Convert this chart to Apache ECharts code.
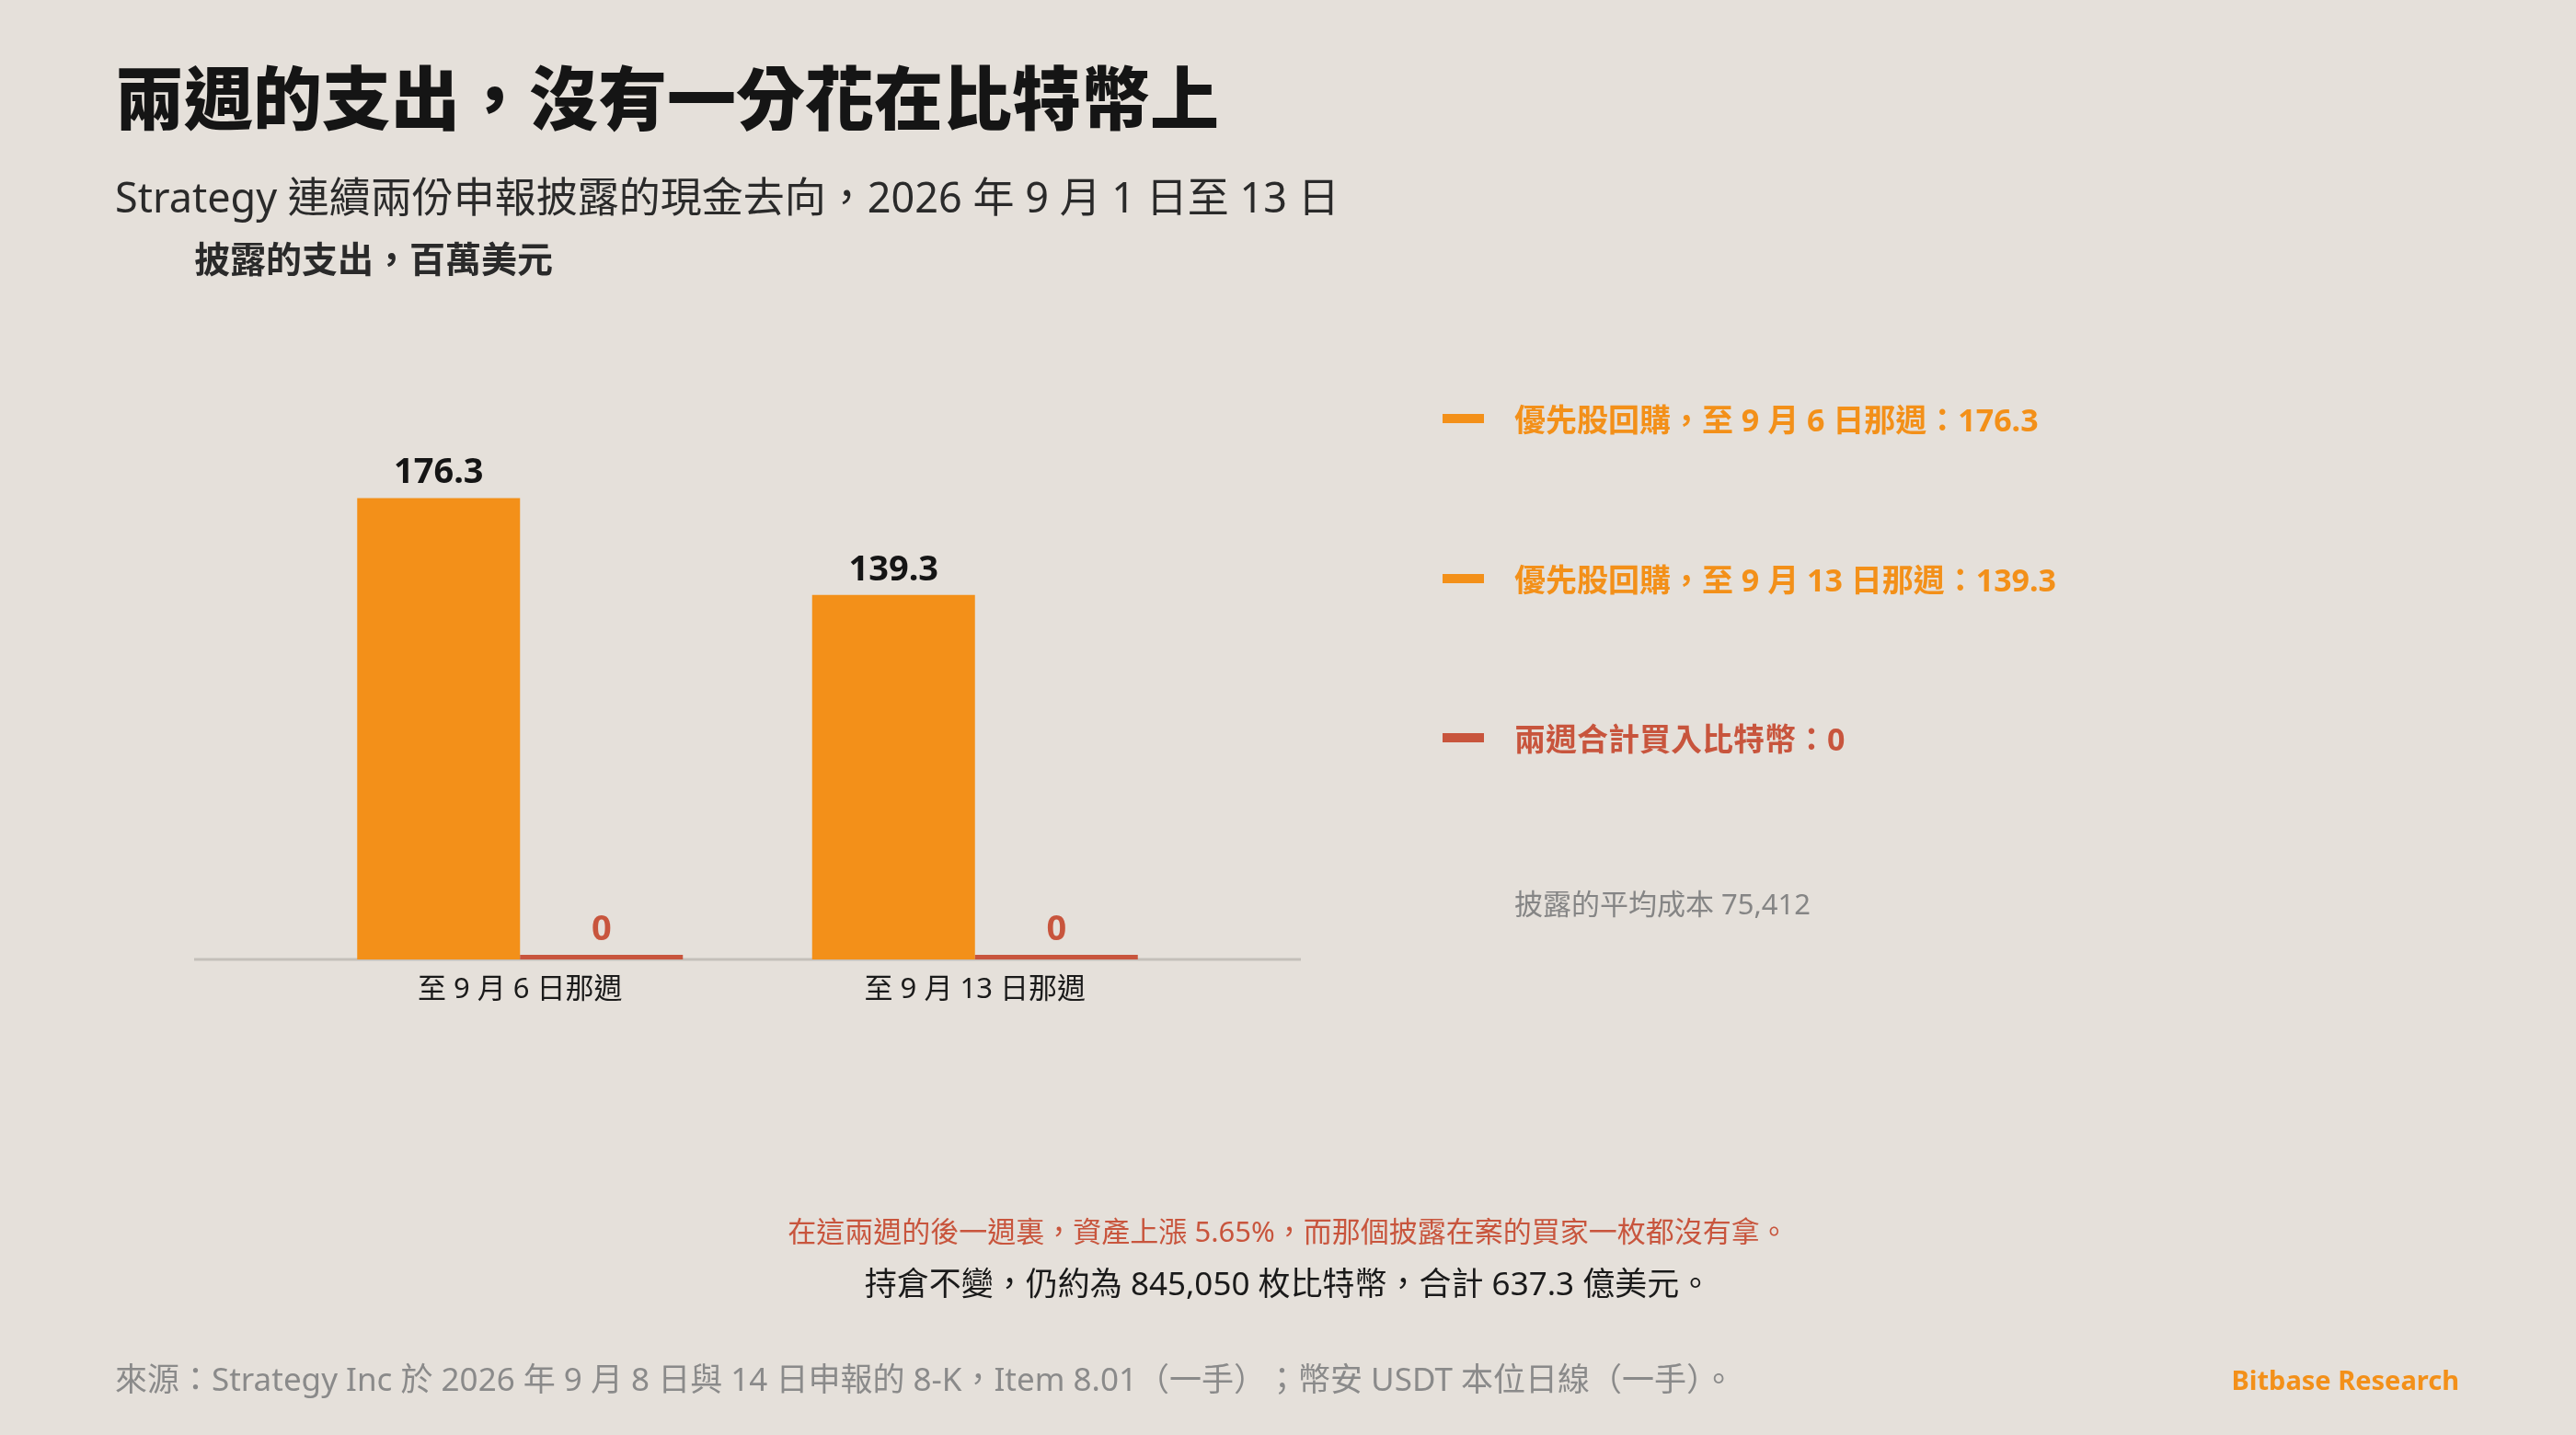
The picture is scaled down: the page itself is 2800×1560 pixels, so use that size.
<!DOCTYPE html>
<html><head><meta charset="utf-8">
<script src="https://cdn.jsdelivr.net/npm/echarts@6/dist/echarts.min.js"></script>
<style>html,body{margin:0;padding:0;background:#E5E0DA}#c{width:2800px;height:1560px}</style>
</head><body><div id="c"></div>
<script>
const categories = ['至 9 月 6 日那週', '至 9 月 13 日那週'];
const preferredBuyback = [176.3, 139.3];
const bitcoinBought = [0, 0];
const legendTexts = ['優先股回購，至 9 月 6 日那週：176.3', '優先股回購，至 9 月 13 日那週：139.3', '兩週合計買入比特幣：0'];
const ORANGE = '#F39019', RED = '#C8553D';
const F = "'Noto Sans', 'Noto Sans CJK TC', sans-serif";
const chart = echarts.init(document.getElementById('c'));
const legendColors = [ORANGE, ORANGE, RED];
const legendY = [455, 629, 802];
const graphics = [
  {type:'text', left:125, top:76, style:{text:'兩週的支出，沒有一分花在比特幣上', font:`900 75px ${F}`, fill:'#151515'}},
  {type:'text', left:125, top:196, style:{text:'Strategy 連續兩份申報披露的現金去向，2026 年 9 月 1 日至 13 日', font:`400 45px ${F}`, fill:'#2a2a2a'}},
  {type:'text', left:211, top:265, style:{text:'披露的支出，百萬美元', font:`700 39px ${F}`, fill:'#2a2a2a'}},
  {type:'text', left:1646, top:970, style:{text:'披露的平均成本 75,412', font:`400 31px ${F}`, fill:'#858585'}},
  {type:'text', left:'center', top:1326, style:{text:'在這兩週的後一週裏，資產上漲 5.65%，而那個披露在案的買家一枚都沒有拿。', font:`400 31px ${F}`, fill:RED}},
  {type:'text', left:'center', top:1381, style:{text:'持倉不變，仍約為 845,050 枚比特幣，合計 637.3 億美元。', font:`400 35px ${F}`, fill:'#1a1a1a'}},
  {type:'text', left:125, top:1485, style:{text:'來源：Strategy Inc 於 2026 年 9 月 8 日與 14 日申報的 8-K，Item 8.01（一手）；幣安 USDT 本位日線（一手）。', font:`400 35px ${F}`, fill:'#8a8a8a'}},
  {type:'text', right:127, top:1488, style:{text:'Bitbase Research', font:`700 29px ${F}`, fill:ORANGE}},
  {type:'line', shape:{x1:211, y1:1043, x2:1414, y2:1043}, style:{stroke:'#c4bfb9', lineWidth:3}}
];
legendTexts.forEach((t,i)=>{
  graphics.push({type:'rect', shape:{x:1568, y:legendY[i]-5, width:45, height:10}, style:{fill:legendColors[i]}});
  graphics.push({type:'text', left:1646, top:legendY[i]-13, style:{text:t, font:`700 34px ${F}`, fill:legendColors[i]}});
});
chart.setOption({
  backgroundColor:'#E5E0DA',
  animation:false,
  grid:{left:318, width:989, top:474, height:569},
  xAxis:{type:'category', data:categories, axisTick:{show:false},
    axisLine:{show:false},
    axisLabel:{fontFamily:F, fontSize:31, color:'#1a1a1a', margin:18}},
  yAxis:{type:'value', min:0, max:200, show:false, splitLine:{show:false}},
  series:[
    {type:'bar', data:preferredBuyback, barWidth:177, barGap:'0%', itemStyle:{color:ORANGE},
     label:{show:true, position:'top', fontFamily:F, fontWeight:700, fontSize:38, color:'#151515', distance:8}},
    {type:'bar', data:bitcoinBought, barWidth:177, barMinHeight:5, itemStyle:{color:RED},
     label:{show:true, position:'top', fontFamily:F, fontWeight:700, fontSize:38, color:RED, distance:8}}
  ],
  graphic:graphics
});
</script></body></html>
